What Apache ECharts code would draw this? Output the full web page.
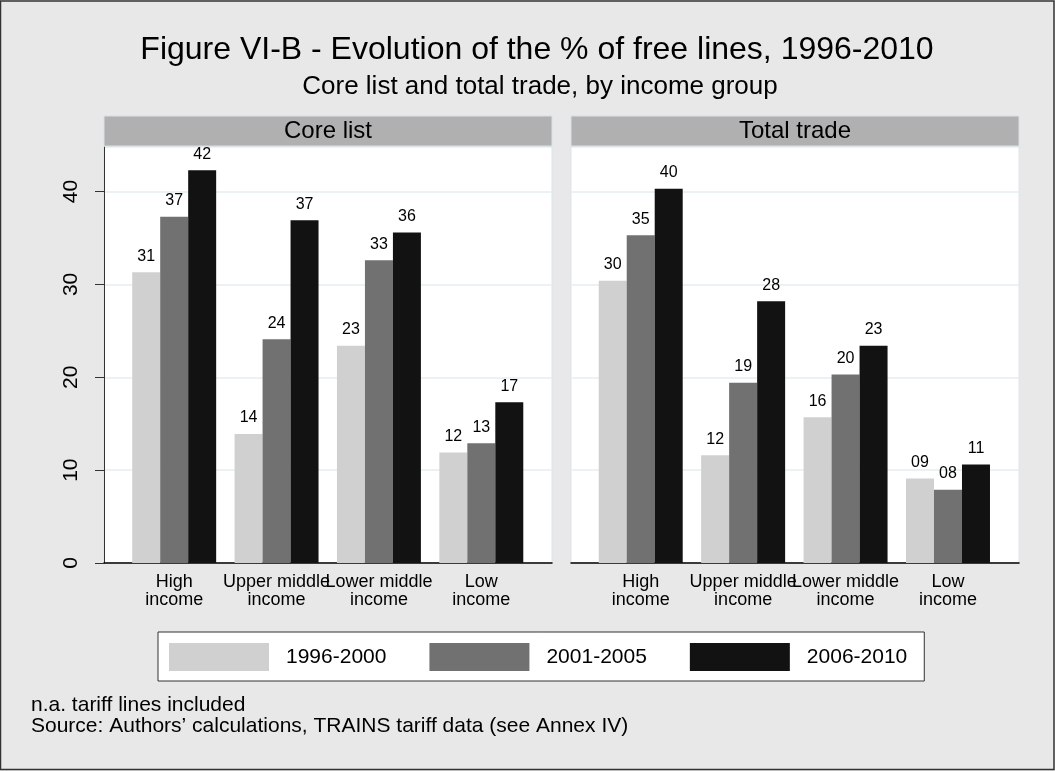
<!DOCTYPE html>
<html>
<head>
<meta charset="utf-8">
<script src="https://cdn.jsdelivr.net/npm/echarts@6/dist/echarts.min.js"></script>
<style>
  html, body { margin: 0; padding: 0; background: #e8e8e8; }
  #chart { width: 1055px; height: 771px; }
</style>
</head>
<body>
<div id="chart"></div>
<script>
// values (% of free lines)
const incomeGroups = ['High\nincome', 'Upper middle\nincome', 'Lower middle\nincome', 'Low\nincome']
const periods = ['1996-2000', '2001-2005', '2006-2010']
const panels = ['Core list', 'Total trade']

const core9600 = [31.3, 13.9, 23.4, 11.9]
const core0105 = [37.3, 24.1, 32.6, 12.9]
const core0610 = [42.3, 36.9, 35.6, 17.3]

const total9600 = [30.4, 11.6, 15.7, 9.1]
const total0105 = [35.3, 19.4, 20.3, 7.9]
const total0610 = [40.3, 28.2, 23.4, 10.6]

const yTicks = [0, 10, 20, 30, 40]
const yMax = 44.8

const FONT = '"Liberation Sans", Arial, Helvetica, sans-serif'
const COLORS = ['#d0d0d0', '#717171', '#121212']

const chart = echarts.init(document.getElementById('chart'))

// background grid (white panel, gridlines, axis line) + bar grid (inset like Stata)
const bgGrids = [
  { left: 104, top: 147, width: 448, height: 416 },
  { left: 571, top: 147, width: 448, height: 416 },
]
const barGrids = [
  { left: 123, top: 147, width: 409.5, height: 416 },
  { left: 589.5, top: 147, width: 409.7, height: 416 },
]

const grids = []
const xAxes = []
const yAxes = []
bgGrids.forEach((g, i) => {
  grids.push({ ...g, show: true, backgroundColor: '#fff', borderColor: '#dbe6ea', borderWidth: 1 })
  xAxes.push({
    gridIndex: grids.length - 1, type: 'value', min: 0, max: 1,
    axisLine: { show: true, lineStyle: { color: '#000', width: 1.5 } },
    axisTick: { show: false }, axisLabel: { show: false }, splitLine: { show: false },
  })
  yAxes.push({
    gridIndex: grids.length - 1, type: 'value', min: 0, max: yMax, interval: 10,
    axisLine: { show: i === 0, lineStyle: { color: '#333', width: 1 } },
    axisTick: { show: i === 0, length: 9, customValues: yTicks, lineStyle: { color: '#333' } },
    axisLabel: {
      show: i === 0, customValues: yTicks, rotate: 90, margin: 22,
      fontSize: 21, color: '#000', fontFamily: FONT,
    },
    splitLine: { show: true, lineStyle: { color: '#e4eef1', width: 1.5 } },
  })
})
barGrids.forEach((g) => {
  grids.push({ ...g })
  xAxes.push({
    gridIndex: grids.length - 1, type: 'category', data: incomeGroups,
    axisLine: { show: false }, axisTick: { show: false },
    axisLabel: {
      interval: 0, hideOverlap: false, margin: 10,
      fontSize: 18, lineHeight: 18, color: '#000', fontFamily: FONT,
    },
  })
  yAxes.push({ gridIndex: grids.length - 1, type: 'value', min: 0, max: yMax, show: false })
})

const panelData = [
  [core9600, core0105, core0610],
  [total9600, total0105, total0610],
]

const series = []
panelData.forEach((sets, p) => {
  sets.forEach((vals, k) => {
    series.push({
      name: periods[k],
      type: 'bar',
      xAxisIndex: 2 + p,
      yAxisIndex: 2 + p,
      data: vals,
      barGap: 0,
      barCategoryGap: '18%',
      itemStyle: { color: COLORS[k] },
      label: {
        show: true, position: 'top', distance: 8,
        fontSize: 16, color: '#000', fontFamily: FONT,
        formatter: (p) => String(Math.round(p.value)).padStart(2, '0'),
      },
    })
  })
})

const strips = []
bgGrids.forEach((g, i) => {
  strips.push({
    type: 'rect', z: 100,
    shape: { x: g.left, y: 116, width: g.width, height: 30 },
    style: { fill: '#b0b0b0', stroke: '#d5e1e6', lineWidth: 1 },
  })
  strips.push({
    type: 'text', z: 101,
    x: g.left + g.width / 2, y: 131,
    style: { text: panels[i], fill: '#000', font: '24px ' + FONT, textAlign: 'center', textVerticalAlign: 'middle' },
  })
})

chart.setOption({
  backgroundColor: '#e8e8e8',
  animation: false,
  title: [
    {
      text: 'Figure VI-B - Evolution of the % of free lines, 1996-2010',
      left: 537, top: 34, textAlign: 'center', padding: 0,
      textStyle: { fontSize: 32, fontWeight: 'normal', color: '#000', fontFamily: FONT },
    },
    {
      text: 'Core list and total trade, by income group',
      left: 540, top: 74, textAlign: 'center', padding: 0,
      textStyle: { fontSize: 26, fontWeight: 'normal', color: '#000', fontFamily: FONT },
    },
    {
      text: 'n.a. tariff lines included\nSource: Authors\u2019 calculations, TRAINS tariff data (see Annex IV)',
      left: 31, top: 695, padding: 0,
      textStyle: { fontSize: 21, lineHeight: 20.5, fontWeight: 'normal', color: '#000', fontFamily: FONT },
    },
  ],
  legend: {
    data: periods,
    left: 158, top: 632,
    orient: 'horizontal',
    itemWidth: 100, itemHeight: 28, itemGap: 43,
    padding: [11, 17, 10, 11],
    backgroundColor: '#fff',
    borderColor: '#333', borderWidth: 1,
    icon: 'rect',
    textStyle: { fontSize: 21, color: '#000', fontFamily: FONT, padding: [0, 0, 0, 12] },
    selectedMode: false,
  },
  grid: grids,
  xAxis: xAxes,
  yAxis: yAxes,
  series,
  graphic: [
    {
      type: 'rect', z: -1, silent: true,
      shape: { x: 0.5, y: 1, width: 1053.5, height: 768.5 },
      style: { fill: 'none', stroke: '#333', lineWidth: 1.5 },
    },
    ...strips,
  ],
})

window.addEventListener('resize', () => chart.resize())
</script>
</body>
</html>
